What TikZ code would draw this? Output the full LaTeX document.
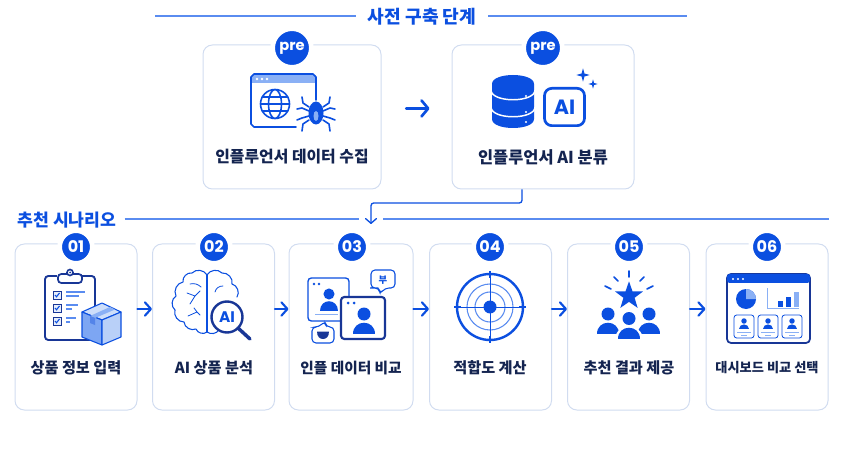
\documentclass[tikz,border=0pt]{standalone}
\usepackage{fontspec}
\setmainfont{Noto Sans CJK KR}
\newfontfamily\badgefont{Poppins}
\usetikzlibrary{
  arrows.meta,
  calc,
  positioning,
  shapes.geometric,
}
\definecolor{mainblue}{RGB}{11, 79, 224}
\definecolor{navy}{RGB}{24, 54, 150}
\definecolor{inktext}{RGB}{20, 36, 80}
\definecolor{cardline}{RGB}{209, 220, 240}
\definecolor{ruleblue}{RGB}{90, 140, 240}
\definecolor{lightblue}{RGB}{138, 176, 245}
\definecolor{paleblue}{RGB}{205, 222, 250}
\tikzstyle{arrow} = [
  -{Straight Barb[length=4.5pt, width=10pt, round]},
  line width=1.6pt,
  mainblue,
  line cap=round,
]
\tikzstyle{rule} = [ruleblue, line width=0.9pt]
\tikzstyle{icon} = [mainblue, line width=1.2pt, line join=round, line cap=round]
\newcommand{\person}[4]{% x, y of the head, scale, colour
  \fill [#4] (#1,#2) circle [radius=#3*6.5];
  \fill [#4] ($(#1,#2)+(-#3*11,#3*20)$) .. controls ($(#1,#2)+(-#3*11,#3*5)$)
    and ($(#1,#2)+(#3*11,#3*5)$) .. ($(#1,#2)+(#3*11,#3*20)$) -- cycle;
}
\begin{document}
\begin{tikzpicture}[x=0.75pt, y=-0.75pt,
    box/.style={draw=cardline, fill=white, line width=0.75pt, rounded corners=7pt,
                minimum height=124.5pt, minimum width=91.5pt, inner sep=0pt},
    prebox/.style={box, minimum height=108pt},
    badge/.style={circle, fill=mainblue, draw=white, line width=3.5pt, text=white,
                  minimum size=24.5pt, inner sep=0pt,
                  font=\badgefont\bfseries\fontsize{12}{12}\selectfont},
    prebadge/.style={badge, minimum size=29pt, font=\badgefont\bfseries\fontsize{11}{12}\selectfont},
    label/.style={text=inktext, font=\bfseries\fontsize{11.4}{13}\selectfont},
    prelabel/.style={text=inktext, font=\bfseries\fontsize{12.3}{14}\selectfont},
    heading/.style={text=mainblue, inner sep=9pt, font=\bfseries\fontsize{13.6}{15}\selectfont}]
  \useasboundingbox (0,0) rectangle (842,463);

  % section headings
  \node [heading] (prehead) at (422,17) {사전 구축 단계};
  \coordinate (preleft) at (155,16);
  \coordinate (preright) at (687,16);
  \draw [rule] (preleft) -- (prehead.west |- preleft);
  \draw [rule] (prehead.east |- preright) -- (preright);
  \node [heading, inner sep=6pt, font=\bfseries\fontsize{12.9}{15}\selectfont] (scenhead) at (67,220) {추천 시나리오};
  \coordinate (gapleft) at (359,219);
  \coordinate (gapright) at (383,219);
  \coordinate (scenright) at (829,219);
  \draw [rule] (scenhead.east |- gapleft) -- (gapleft);
  \draw [rule] (gapright) -- (scenright);

  % cards
  \node [prebox, minimum width=133.5pt] (crawl) at (292,117) {};
  \node [prebox, minimum width=136.5pt] (classify) at (543,117) {};
  \node [box] (input) at (76,327) {};
  \node [box] (brain) at (213.5,327) {};
  \node [box, minimum width=93pt] (compare) at (351,327) {};
  \node [box] (fit) at (490.5,327) {};
  \node [box] (result) at (628.5,327) {};
  \node [box] (dash) at (767,327) {};

  % badges
  \node [prebadge] (bcrawl) at (292,48) {pre};
  \node [prebadge] (bclassify) at (543,48) {pre};
  \node [badge] (b1) at (76,247) {01};
  \node [badge] (b2) at (214,247) {02};
  \node [badge] (b3) at (352,247) {03};
  \node [badge] (b4) at (490,247) {04};
  \node [badge] (b5) at (629,247) {05};
  \node [badge] (b6) at (767,247) {06};

  % labels
  \node [prelabel, font=\bfseries\fontsize{11.9}{14}\selectfont] (lcrawl) at (292,157) {인플루언서 데이터 수집};
  \node [prelabel] (lclassify) at (543,157) {인플루언서 AI 분류};
  \node [label] (l1) at (76,368) {상품 정보 입력};
  \node [label] (l2) at (214,368) {AI 상품 분석};
  \node [label, font=\bfseries\fontsize{11}{13}\selectfont] (l3) at (351,368) {인플 데이터 비교};
  \node [label] (l4) at (490,368) {적합도 계산};
  \node [label] (l5) at (629,368) {추천 결과 제공};
  \node [label, font=\bfseries\fontsize{9.9}{13}\selectfont] (l6) at (767,368) {대시보드 비교 선택};

  % connectors
  \draw [arrow, line width=2pt, -{Straight Barb[length=5pt, width=12pt, round]}, shorten <=18.5pt, shorten >=16.5pt]
    ([yshift=6.4pt]crawl.east) -- ([yshift=6.4pt]classify.west);
  \coordinate (drop) at (371,224);
  \draw [mainblue, line width=1pt, rounded corners=2pt, -{Straight Barb[length=3.5pt, width=8pt, round]}]
    ([xshift=-15.75pt]classify.south) |- (371,203) -- (drop);
  \foreach \a/\b in {input/brain, brain/compare, compare/fit, fit/result, result/dash}
    \draw [arrow] ([yshift=13.5pt]\a.east) -- ([yshift=13.5pt]\b.west);

  % browser and spider
  \fill [lightblue] (252,75) rectangle (316,83);
  \draw [icon] (296,127) -- (254,127) -- (251,124) -- (251,77) -- (254,74) -- (313,74) -- (316,77) -- (316,100);
  \foreach \x in {257,262,267} \fill [white] (\x,79) circle [radius=1.3];
  \draw [icon] (275,104) circle [radius=14.5] ellipse [x radius=6.5, y radius=14.5]
    (260.5,104) -- (289.5,104) (262,97) -- (288,97) (262,111) -- (288,111);
  \fill [mainblue] (316,113) ellipse [x radius=7.5, y radius=11.5];
  \fill [lightblue] (316,116) ellipse [x radius=2.5, y radius=5];
  \foreach \s in {-1,1} {
    \draw [icon] ($(316,113)+(\s*7,-6)$) -- ++(\s*6,-4) -- ++(\s*1,-6);
    \draw [icon] ($(316,113)+(\s*7,-2)$) -- ++(\s*7,-3) -- ++(\s*5,1);
    \draw [icon] ($(316,113)+(\s*7,3)$) -- ++(\s*7,2) -- ++(\s*5,2);
    \draw [icon] ($(316,113)+(\s*7,7)$) -- ++(\s*6,4) -- ++(\s*1,7);
  }

  % database and AI box
  \fill [mainblue] (492,84) .. controls (492,72) and (534,72) .. (534,84) -- (534,119)
    .. controls (534,131) and (492,131) .. (492,119) -- cycle;
  \foreach \y in {0,17}
    \draw [white, line width=1.1pt] (491,{90+\y}) .. controls (491,{103+\y}) and (535,{103+\y}) .. (535,{90+\y});
  \foreach \y in {96,112,122} \fill [white] (526,\y) circle [radius=1.2];
  \node [draw=mainblue, line width=2pt, rounded corners=5.5pt, minimum width=30pt, minimum height=28pt,
         inner sep=0pt, text=mainblue, font=\badgefont\bfseries\fontsize{15.5}{16}\selectfont]
    (aibox) at (564.5,107) {AI};
  \node [star, star points=4, star point ratio=3.2, fill=mainblue, inner sep=0pt, minimum size=10pt] (spark1) at (583,75) {};
  \node [star, star points=4, star point ratio=3.2, fill=mainblue, inner sep=0pt, minimum size=7pt] (spark2) at (593,84) {};

  % clipboard and parcel
  \draw [navy, line width=1.4pt, rounded corners=2.5pt] (45,276) rectangle (95,340);
  \fill [white] (57,272) rectangle (82,283);
  \draw [navy, fill=white, line width=1.3pt, rounded corners=2.5pt] (58,274) rectangle (82,283);
  \draw [navy, fill=white, line width=1.2pt] (70,272.5) circle [radius=3];
  \fill [navy] (70,272.5) circle [radius=1];
  \foreach \y/\e in {295/85, 308/78, 321/76} {
    \draw [navy, line width=0.6pt, fill=paleblue!50] (53,{\y-4}) rectangle (61,{\y+4});
    \draw [mainblue, line width=0.8pt] (55,\y) -- (56.5,{\y+1.8}) -- (59.5,{\y-2});
    \draw [ruleblue, line width=0.8pt] (66,{\y-3}) -- (\e,{\y-3}) (66,{\y+1}) -- ({\e-6},{\y+1});
  }
  \draw [mainblue, fill=paleblue, line width=0.8pt, line join=round] (102,303) -- (121,312) -- (102,320) -- (82,312) -- cycle;
  \draw [mainblue, fill=lightblue!90!mainblue, line width=0.8pt, line join=round] (82,312) -- (102,320) -- (102,345) -- (82,337) -- cycle;
  \draw [mainblue, fill=paleblue!70!lightblue, line width=0.8pt, line join=round] (121,312) -- (102,320) -- (102,345) -- (121,337) -- cycle;
  \fill [lightblue] (90,316) -- (110,307) -- (115,309.5) -- (95,318) -- cycle;
  \fill [mainblue!70] (90,316) -- (95,318) -- (95,325) -- (90,323) -- cycle;

  % brain and lens
  \draw [icon, line width=0.8pt] (207,275) to [bend right=55] (192,273) to [bend right=55] (183,282)
    to [bend right=55] (176,296) to [bend right=55] (175,310) to [bend right=55] (184,322)
    to [bend right=55] (196,329) to [bend right=55] (207,332);
  \draw [icon, line width=0.8pt] (207,275) to [bend left=55] (222,273) to [bend left=55] (232,284)
    to [bend left=55] (237,297);
  \draw [icon, line width=0.8pt] (207,332) to [bend right=45] (219,330);
  \draw [icon, line width=0.8pt] (207,275) -- (207,332);
  \draw [icon, line width=0.6pt] (187,293) -- (195,296) -- (190,304) (195,296) -- (200,291)
    (190,284) .. controls (194,283) and (198,284) .. (201,287)
    (188,316) -- (197,312) -- (200,315) (197,312) -- (194,308)
    (215,292) .. controls (216,288) and (219,286) .. (223,286);
  \draw [navy, fill=white, line width=1.8pt] (227,317) circle [radius=15.5];
  \draw [navy, line width=2.6pt, line cap=round] (238,328) -- (250,339);
  \node [text=mainblue, inner sep=0pt, font=\badgefont\bfseries\fontsize{11.5}{12}\selectfont] (ailens) at (227,317) {AI};

  % compared profiles
  \draw [mainblue, line width=1pt, rounded corners=2.5pt] (308,278) rectangle (349,321);
  \foreach \x in {314,319} \fill [mainblue] (\x,284) circle [radius=1.3];
  \person{329}{294}{0.85}{mainblue}
  \draw [lightblue, line width=0.6pt] (315,314) -- (338,314);
  \draw [navy, fill=white, line width=1.6pt, rounded corners=2.5pt] (341,297) rectangle (385,339);
  \foreach \x in {348,354} \fill [mainblue] (\x,303) circle [radius=1.5];
  \person{364}{314}{1}{mainblue}
  \draw [mainblue, fill=white, line width=0.8pt, rounded corners=3pt] (374,288) -- (371,288) -- (371,270) -- (395,270) -- (395,288) -- (385,288) -- (380,294) -- (379,288) -- cycle;
  \node [text=mainblue, inner sep=0pt, font=\bfseries\fontsize{7}{8}\selectfont] (bubbleword) at (383,280) {부};
  \draw [mainblue, fill=white, line width=0.8pt, rounded corners=3pt] (312,327) -- (319,327) -- (325,321) -- (326,327) -- (334,327) -- (334,343) -- (312,343) -- cycle;
  \fill [navy] (317,331.5) -- (329,331.5) .. controls (329,337) and (326,339) .. (323,339) .. controls (320,339) and (317,337) .. (317,331.5) -- cycle;

  % target
  \draw [mainblue, line width=1.8pt] (490,307) circle [radius=33];
  \draw [ruleblue, line width=0.8pt] (490,307) circle [radius=23] (490,307) circle [radius=15];
  \draw [mainblue, line width=0.7pt] (454,307) -- (526,307);
  \draw [mainblue, line width=0.7pt] (490,271) -- (490,343);
  \fill [mainblue] (490,307) circle [radius=6.5];
  \foreach \a in {0,90,180,270}
    \draw [mainblue, line width=1.5pt] ($(490,307)+(\a:29)$) -- ($(490,307)+(\a:36)$);

  % star and people
  \node [star, star points=5, star point ratio=2.5, fill=mainblue, inner sep=0pt, minimum size=22pt] (topstar) at (629,296) {};
  \draw [icon] (629,271) -- (629,277) (614,277) -- (618,281) (644,277) -- (640,281)
    (605,286) -- (611,289) (653,286) -- (647,289);
  \person{608}{314}{1}{mainblue}
  \person{649}{314}{1}{mainblue}
  \fill [white] (629,318) circle [radius=8];
  \fill [white] (615,340) .. controls (615,322) and (643,322) .. (643,340) -- cycle;
  \person{629}{318.5}{1}{mainblue}

  % dashboard
  \draw [navy, fill=white, line width=1.3pt, rounded corners=3pt] (727,274) rectangle (810,343);
  \fill [mainblue, rounded corners=2pt] (727,274) rectangle (810,283);
  \foreach \x in {733,738,743} \fill [white] (\x,279) circle [radius=1.2];
  \fill [mainblue] (746,299) circle [radius=10];
  \fill [lightblue] (746,299) -- (746,289) arc [start angle=-90, end angle=0, radius=10] -- cycle;
  \draw [lightblue, line width=0.4pt] (767,288) -- (767,308) -- (799,308);
  \fill [mainblue] (778,301) rectangle (783,307);
  \fill [mainblue] (786,297) rectangle (791,307);
  \fill [lightblue] (794,292) rectangle (799,307);
  \foreach \x in {744,768,792} {
    \draw [mainblue, line width=0.6pt, rounded corners=2pt] ({\x-10},315) rectangle ({\x+10},338);
    \person{\x}{321}{0.42}{mainblue}
    \draw [lightblue, line width=0.6pt] ({\x-7},332) -- ({\x+7},332) ({\x-3},335) -- ({\x+3},335);
  }
\end{tikzpicture}
\end{document}
